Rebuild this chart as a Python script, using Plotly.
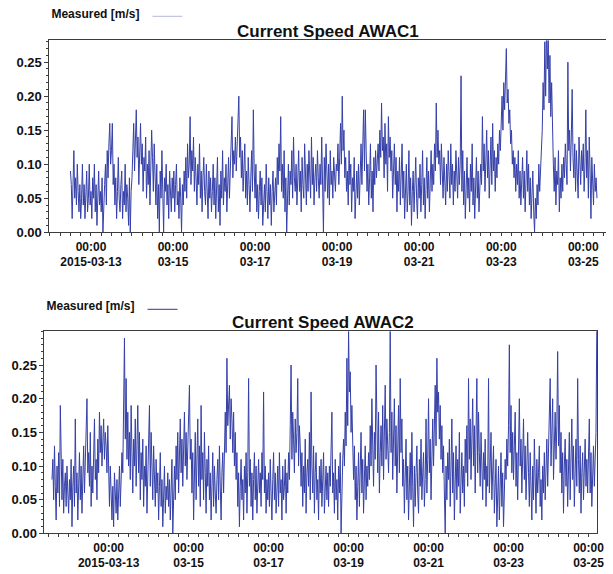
import pandas as pd
import plotly.graph_objects as go

# ---------------- data (current speed, m/s, 30-min samples) ----------------
awac1_start = "2015-03-12 12:00"
awac1_speed = [
    0.09,0.07,0.02,0.06,0.12,0.05,0.08,0.04,0.10,0.06,0.03,0.07,0.02,0.05,0.10,0.04,0.07,0.02,0.06,0.09,0.03,0.05,0.10,0.04,
    0.06,0.02,0.08,0.05,0.10,0.03,0.07,0.01,0.05,0.09,0.04,0.06,0.03,0.08,0.00,0.05,0.07,0.10,0.04,0.12,0.08,0.13,0.16,0.10,
    0.12,0.16,0.07,0.10,0.04,0.08,0.02,0.06,0.11,0.05,0.03,0.07,0.09,0.02,0.06,0.04,0.10,0.03,0.07,0.05,0.01,0.08,0.00,0.06,
    0.08,0.12,0.16,0.09,0.13,0.18,0.11,0.14,0.07,0.12,0.16,0.10,0.13,0.06,0.11,0.09,0.14,0.05,0.10,0.07,0.12,0.04,0.09,0.15,
    0.11,0.06,0.13,0.08,0.04,0.10,0.02,0.07,0.00,0.09,0.05,0.12,0.03,0.00,0.08,0.06,0.10,0.04,0.07,0.02,0.09,0.05,0.03,0.08,
    0.05,0.09,0.03,0.07,0.10,0.04,0.06,0.02,0.08,0.05,0.00,0.07,0.04,0.09,0.06,0.11,0.05,0.13,0.08,0.10,0.17,0.07,0.12,0.09,
    0.14,0.06,0.11,0.08,0.04,0.10,0.07,0.13,0.05,0.09,0.03,0.08,0.11,0.06,0.04,0.10,0.07,0.02,0.09,0.05,0.08,0.03,0.06,0.10,
    0.04,0.08,0.02,0.06,0.11,0.03,0.07,0.01,0.09,0.05,0.12,0.04,0.08,0.06,0.10,0.03,0.07,0.11,0.05,0.09,0.13,0.17,0.08,0.12,
    0.10,0.14,0.09,0.13,0.15,0.20,0.11,0.14,0.08,0.12,0.06,0.10,0.13,0.05,0.09,0.04,0.11,0.07,0.03,0.08,0.12,0.06,0.18,0.09,
    0.05,0.10,0.03,0.07,0.02,0.06,0.09,0.04,0.08,0.01,0.05,0.07,0.03,0.10,0.06,0.02,0.08,0.04,0.07,0.01,0.06,0.09,0.03,0.05,
    0.08,0.04,0.11,0.07,0.13,0.09,0.17,0.06,0.10,0.05,0.12,0.03,0.08,0.00,0.06,0.10,0.04,0.09,0.07,0.12,0.05,0.14,0.08,0.06,
    0.10,0.04,0.08,0.12,0.06,0.09,0.03,0.11,0.07,0.05,0.13,0.08,0.04,0.10,0.06,0.12,0.09,0.05,0.14,0.07,0.11,0.04,0.08,0.10,
    0.06,0.12,0.08,0.05,0.10,0.07,0.14,0.09,0.00,0.11,0.06,0.13,0.08,0.05,0.10,0.04,0.12,0.07,0.09,0.05,0.11,0.08,0.06,0.10,
    0.09,0.13,0.07,0.11,0.16,0.10,0.20,0.12,0.15,0.08,0.11,0.06,0.09,0.04,0.12,0.07,0.10,0.03,0.08,0.06,0.11,0.02,0.07,0.09,
    0.05,0.10,0.04,0.08,0.13,0.07,0.11,0.18,0.09,0.18,0.12,0.06,0.10,0.04,0.08,0.13,0.05,0.09,0.03,0.11,0.07,0.12,0.08,0.10,
    0.13,0.09,0.15,0.11,0.19,0.12,0.14,0.08,0.16,0.10,0.13,0.06,0.17,0.11,0.14,0.09,0.12,0.05,0.10,0.13,0.07,0.11,0.03,0.09,
    0.06,0.11,0.04,0.08,0.13,0.05,0.09,0.02,0.07,0.10,0.03,0.06,0.12,0.04,0.08,0.01,0.06,0.09,0.03,0.07,0.11,0.05,0.02,0.08,
    0.05,0.10,0.03,0.07,0.12,0.04,0.08,0.02,0.06,0.11,0.05,0.09,0.03,0.08,0.12,0.06,0.10,0.07,0.13,0.09,0.19,0.11,0.15,0.10,
    0.12,0.07,0.13,0.09,0.05,0.11,0.08,0.04,0.10,0.06,0.12,0.08,0.05,0.13,0.07,0.10,0.04,0.09,0.06,0.12,0.08,0.05,0.11,0.07,
    0.10,0.23,0.06,0.12,0.04,0.09,0.02,0.07,0.11,0.05,0.08,0.03,0.10,0.06,0.13,0.04,0.08,0.02,0.07,0.11,0.05,0.09,0.03,0.06,
    0.10,0.07,0.17,0.09,0.13,0.06,0.11,0.15,0.08,0.12,0.05,0.10,0.14,0.07,0.16,0.09,0.12,0.06,0.11,0.08,0.13,0.10,0.15,0.12,
    0.16,0.20,0.15,0.22,0.18,0.24,0.27,0.19,0.21,0.16,0.18,0.13,0.15,0.10,0.12,0.08,0.11,0.06,0.10,0.07,0.12,0.05,0.09,0.04,
    0.08,0.11,0.05,0.09,0.03,0.07,0.12,0.06,0.10,0.04,0.08,0.02,0.06,0.09,0.03,0.00,0.05,0.02,0.07,0.04,0.10,0.06,0.09,0.12,
    0.15,0.22,0.18,0.28,0.20,0.30,0.24,0.29,0.19,0.26,0.17,0.22,0.14,0.10,0.06,0.11,0.04,0.09,0.07,0.12,0.03,0.08,0.05,0.10,
    0.06,0.11,0.08,0.13,0.10,0.07,0.25,0.12,0.15,0.09,0.14,0.21,0.11,0.08,0.13,0.06,0.12,0.09,0.05,0.14,0.10,0.07,0.12,0.09,
    0.13,0.06,0.10,0.18,0.08,0.12,0.05,0.14,0.09,0.02,0.11,0.07,0.04,0.10,0.06,0.08,0.05,
]

awac2_start = "2015-03-11 14:00"
awac2_speed = [
    0.08,0.11,0.05,0.13,0.07,0.02,0.10,0.06,0.12,0.04,0.19,0.08,0.05,0.11,0.03,0.07,0.09,0.04,0.10,0.06,
    0.03,0.08,0.05,0.11,0.01,0.07,0.10,0.04,0.17,0.06,0.09,0.02,0.08,0.12,0.05,0.10,0.03,0.07,0.13,0.06,0.11,0.15,0.20,0.09,
    0.12,0.07,0.15,0.04,0.10,0.06,0.13,0.17,0.08,0.11,0.05,0.14,0.09,0.18,0.12,0.16,0.10,0.14,0.17,0.11,0.15,0.13,0.09,0.16,
    0.08,0.04,0.10,0.06,0.02,0.07,0.01,0.09,0.05,0.03,0.08,0.02,0.06,0.10,0.04,0.07,0.12,0.09,0.16,0.29,0.14,0.23,0.11,0.18,
    0.10,0.15,0.08,0.19,0.12,0.06,0.14,0.10,0.17,0.07,0.13,0.19,0.09,0.15,0.05,0.12,0.08,0.14,0.04,0.10,0.07,0.13,0.03,0.09,
    0.12,0.19,0.07,0.15,0.10,0.05,0.13,0.08,0.04,0.11,0.06,0.09,0.02,0.07,0.12,0.04,0.08,0.01,0.06,0.10,0.03,0.07,0.05,0.09,
    0.04,0.08,0.02,0.06,0.11,0.00,0.07,0.10,0.05,0.13,0.08,0.15,0.06,0.11,0.17,0.09,0.14,0.07,0.12,0.18,0.10,0.15,0.08,0.13,
    0.16,0.22,0.11,0.14,0.06,0.12,0.02,0.09,0.15,0.05,0.10,0.17,0.07,0.13,0.04,0.19,0.08,0.12,0.05,0.15,0.09,0.03,0.11,0.07,
    0.13,0.05,0.09,0.02,0.07,0.12,0.04,0.10,0.06,0.03,0.08,0.11,0.05,0.13,0.07,0.02,0.09,0.12,0.06,0.14,0.18,0.12,0.26,0.16,
    0.19,0.22,0.14,0.20,0.17,0.12,0.18,0.10,0.15,0.08,0.12,0.04,0.09,0.01,0.07,0.11,0.05,0.08,0.02,0.10,0.06,0.12,0.03,0.09,
    0.23,0.07,0.11,0.04,0.09,0.02,0.08,0.12,0.05,0.10,0.03,0.07,0.11,0.06,0.09,0.04,0.12,0.08,0.21,0.06,0.10,0.03,0.08,0.05,
    0.09,0.04,0.11,0.06,0.02,0.08,0.12,0.05,0.09,0.03,0.07,0.10,0.04,0.12,0.06,0.08,0.02,0.10,0.05,0.07,0.11,0.03,0.09,0.06,
    0.12,0.08,0.16,0.25,0.11,0.18,0.14,0.09,0.17,0.12,0.15,0.23,0.10,0.16,0.13,0.07,0.12,0.04,0.10,0.06,0.14,0.03,0.09,0.11,
    0.07,0.15,0.05,0.21,0.10,0.06,0.13,0.03,0.09,0.12,0.05,0.08,0.02,0.10,0.06,0.11,0.04,0.08,0.12,0.03,0.07,0.10,0.05,0.09,
    0.04,0.10,0.07,0.12,0.18,0.06,0.09,0.03,0.11,0.05,0.08,0.02,0.10,0.06,0.12,0.00,0.07,0.11,0.14,0.10,0.18,0.13,0.26,0.16,
    0.30,0.21,0.24,0.15,0.19,0.12,0.08,0.13,0.05,0.10,0.02,0.07,0.12,0.04,0.09,0.15,0.06,0.11,0.03,0.08,0.13,0.05,0.10,0.07,
    0.12,0.08,0.16,0.10,0.20,0.13,0.07,0.15,0.11,0.25,0.14,0.09,0.18,0.06,0.12,0.16,0.10,0.19,0.08,0.14,0.22,0.11,0.17,0.13,
    0.09,0.15,0.30,0.12,0.18,0.08,0.14,0.20,0.10,0.16,0.06,0.13,0.19,0.09,0.23,0.12,0.17,0.07,0.11,0.03,0.09,0.14,0.05,0.10,
    0.02,0.08,0.12,0.05,0.15,0.07,0.01,0.10,0.04,0.09,0.13,0.06,0.03,0.11,0.07,0.14,0.05,0.09,0.12,0.04,0.08,0.17,0.06,0.11,
    0.20,0.09,0.14,0.05,0.12,0.17,0.10,0.15,0.22,0.13,0.26,0.18,0.21,0.14,0.19,0.11,0.16,0.09,0.13,0.06,0.00,0.10,0.05,0.12,
    0.08,0.14,0.04,0.10,0.17,0.06,0.12,0.02,0.09,0.13,0.05,0.11,0.07,0.15,0.03,0.08,0.12,0.06,0.10,0.04,0.14,0.09,0.16,0.07,
    0.23,0.11,0.17,0.08,0.14,0.20,0.10,0.16,0.06,0.13,0.23,0.09,0.18,0.12,0.07,0.15,0.10,0.05,0.12,0.08,0.14,0.04,0.10,0.07,
    0.23,0.06,0.10,0.15,0.05,0.09,0.13,0.03,0.08,0.11,0.01,0.06,0.10,0.02,0.07,0.12,0.04,0.09,0.01,0.06,0.11,0.08,0.14,0.10,
    0.16,0.28,0.12,0.19,0.09,0.15,0.08,0.13,0.18,0.07,0.12,0.05,0.16,0.20,0.10,0.14,0.06,0.11,0.17,0.08,0.13,0.05,0.10,0.15,
    0.09,0.04,0.12,0.07,0.02,0.10,0.05,0.14,0.08,0.03,0.11,0.06,0.09,0.13,0.04,0.08,0.02,0.10,0.06,0.12,0.05,0.09,0.14,0.07,
    0.12,0.17,0.23,0.10,0.15,0.20,0.08,0.14,0.18,0.11,0.16,0.27,0.13,0.19,0.09,0.15,0.06,0.12,0.03,0.10,0.14,0.07,0.11,0.04,
    0.09,0.15,0.05,0.12,0.17,0.08,0.13,0.04,0.10,0.14,0.07,0.23,0.11,0.06,0.13,0.03,0.09,0.12,0.05,0.10,0.14,0.07,0.11,0.06,
    0.10,0.17,0.06,0.12,0.04,0.09,0.13,0.07,0.11,0.15,0.31,
]

tick_dates = ["2015-03-13", "2015-03-15", "2015-03-17", "2015-03-19",
              "2015-03-21", "2015-03-23", "2015-03-25"]
tick_labels = ["00:00<br>2015-03-13", "00:00<br>03-15", "00:00<br>03-17",
               "00:00<br>03-19", "00:00<br>03-21", "00:00<br>03-23", "00:00<br>03-25"]
y_ticks = [0.00, 0.05, 0.10, 0.15, 0.20, 0.25]
titles = ["Current Speed AWAC1", "Current Speed AWAC2"]
legend_title = "Measured [m/s]"

# ---------------- figure ----------------
W, H = 613, 574
FONT = "Liberation Sans, Arial, sans-serif"
LINE = "#3540a8"
AXC = "#3c3c3c"

t1 = pd.date_range(awac1_start, periods=len(awac1_speed), freq="30min")
t2 = pd.date_range(awac2_start, periods=len(awac2_speed), freq="30min")

fig = go.Figure()
fig.add_trace(go.Scatter(x=t1, y=awac1_speed, mode="lines", xaxis="x", yaxis="y",
                         line=dict(color=LINE, width=1.0), showlegend=False,
                         hoverinfo="skip"))
fig.add_trace(go.Scatter(x=t2, y=awac2_speed, mode="lines", xaxis="x2", yaxis="y2",
                         line=dict(color=LINE, width=1.0), showlegend=False,
                         hoverinfo="skip"))
# legend entries
fig.add_trace(go.Scatter(x=[None], y=[None], mode="lines", name="",
                         line=dict(color="#c4c5e4", width=1.2), legend="legend"))
fig.add_trace(go.Scatter(x=[None], y=[None], mode="lines", name="", xaxis="x2", yaxis="y2",
                         line=dict(color="#5a5cae", width=1.2), legend="legend2"))

xtickfont = dict(family=FONT, size=12, color="#111111", weight="bold")
ytickfont = dict(family=FONT, size=13, color="#111111", weight="bold")

def xaxis(domain, rng, anchor):
    return dict(domain=domain, range=rng, anchor=anchor, type="date",
                tickvals=tick_dates, ticktext=tick_labels, tickfont=xtickfont,
                ticks="outside", ticklen=3, tickcolor=AXC, showgrid=False,
                showline=True, linecolor=AXC, linewidth=1, mirror=True,
                minor=dict(dtick=6 * 3600 * 1000, tick0="2015-03-13", ticks="outside",
                           ticklen=3, tickcolor=AXC, showgrid=False),
                zeroline=False)

def yaxis(domain, rng, anchor, mirror):
    return dict(domain=domain, range=rng, anchor=anchor, tickvals=y_ticks,
                tickformat=".2f", tickfont=ytickfont, ticks="outside", ticklen=4,
                tickcolor=AXC, showgrid=False, showline=True, linecolor=AXC,
                linewidth=1, mirror=mirror, zeroline=False,
                minor=dict(dtick=0.01, ticks="outside", ticklen=2, tickcolor=AXC,
                           showgrid=False))

legend_font = dict(family=FONT, size=12, color="#111111", weight="bold")

fig.update_layout(
    width=W, height=H, margin=dict(l=0, r=0, t=0, b=0),
    paper_bgcolor="white", plot_bgcolor="white",
    font=dict(family=FONT, color="#111111"),
    xaxis=xaxis([50 / W, 1.0], ["2015-03-11 23:42", "2015-03-25 13:18"], "y"),
    yaxis=yaxis([1 - 235.5 / H, 1 - 41 / H], [0, 0.282], "x", False),
    xaxis2=xaxis([45 / W, 604 / W], ["2015-03-11 09:30", "2015-03-25 05:10"], "y2"),
    yaxis2=yaxis([1 - 541 / H, 1 - 336 / H], [0, 0.30], "x2", True),
    legend=dict(x=50 / W, y=1 - 2 / H, xanchor="left", yanchor="top",
                orientation="h", bgcolor="rgba(0,0,0,0)",
                title=dict(text=legend_title, side="left", font=legend_font)),
    legend2=dict(x=45 / W, y=1 - 299 / H, xanchor="left", yanchor="top",
                 orientation="h", bgcolor="rgba(0,0,0,0)",
                 title=dict(text=legend_title, side="left", font=legend_font)),
    annotations=[
        dict(text=titles[0], x=332 / W, y=1 - 32 / H, xref="paper", yref="paper",
             xanchor="center", yanchor="middle", showarrow=False,
             font=dict(family=FONT, size=17, color="#111111", weight="bold")),
        dict(text=titles[1], x=327 / W, y=1 - 327 / H, xref="paper", yref="paper",
             xanchor="center", yanchor="middle", showarrow=False,
             font=dict(family=FONT, size=17, color="#111111", weight="bold")),
    ],
)

fig.write_html("out.html")
